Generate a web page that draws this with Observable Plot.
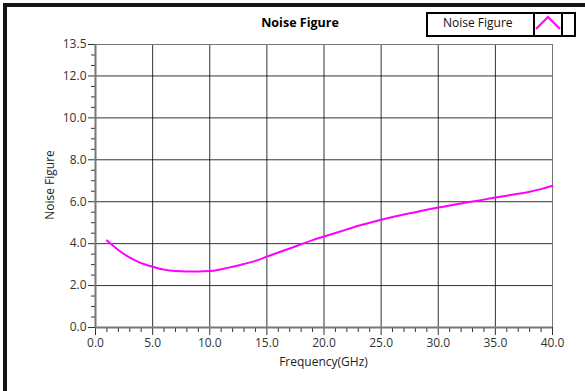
<!DOCTYPE html>
<html><head><meta charset="utf-8">
<script src="https://cdn.jsdelivr.net/npm/d3@7"></script>
<script src="https://cdn.jsdelivr.net/npm/@observablehq/plot@0.6"></script>
<style>
body{margin:0;background:#fff;}
#wrap{position:relative;width:585px;height:391px;overflow:hidden;background:#fff;}
#chart{position:absolute;left:0;top:0;}
#overlay{position:absolute;left:0;top:0;pointer-events:none;}
</style></head><body>
<div id="wrap">
  <div id="chart"></div>
  <svg id="overlay" width="585" height="391" font-family="'Open Sans', sans-serif">
    <rect x="3" y="3" width="4" height="388" fill="#151515"></rect>
    <rect x="3" y="3" width="582" height="4" fill="#151515"></rect>
    <text id="title" x="300" y="27" text-anchor="middle" font-size="12.5" font-weight="bold" fill="#000"></text>
    <text id="xlabel" x="323.5" y="366" text-anchor="middle" font-size="12" fill="#222"></text>
    <text id="ylabel" transform="translate(54,185) rotate(-90)" text-anchor="middle" font-size="12" fill="#222"></text>
    <rect x="427" y="13" width="148" height="23" fill="#fff" stroke="#000" stroke-width="2"></rect>
    <rect x="534" y="13" width="28" height="23" fill="#fff" stroke="#000" stroke-width="2"></rect>
    <polyline id="legendSwatch" points="536,29 548,17 560,29" fill="none" stroke-width="2"></polyline>
    <text id="legendText" x="443" y="27" font-size="12" fill="#111"></text>
  </svg>
</div>
<script>
const titleText = "Noise Figure";
const xLabel = "Frequency(GHz)";
const yLabel = "Noise Figure";
const seriesName = "Noise Figure";
const lineColor = "#ff00ff";

const freq = [1, 2, 3, 4, 5, 6, 7, 8, 9, 10, 11, 12, 13, 14, 15, 16, 17, 18, 19, 20,
  21, 22, 23, 24, 25, 26, 27, 28, 29, 30, 31, 32, 33, 34, 35, 36, 37, 38, 39, 40];
const noiseFigure = [4.15, 3.7, 3.33, 3.07, 2.9, 2.76, 2.69, 2.67, 2.67, 2.69, 2.78, 2.9, 3.03, 3.18, 3.38, 3.58, 3.77, 3.97, 4.17, 4.34,
  4.51, 4.68, 4.85, 5.0, 5.14, 5.27, 5.39, 5.5, 5.62, 5.72, 5.82, 5.92, 6.01, 6.1, 6.2, 6.29, 6.38, 6.48, 6.6, 6.76];

const yMajor = [0, 2, 4, 6, 8, 10, 12, 13.5];
const yMinor = [0.5, 1, 1.5, 2.5, 3, 3.5, 4.5, 5, 5.5, 6.5, 7, 7.5, 8.5, 9, 9.5, 10.5, 11, 11.5, 12.5, 13];
const xMajor = [0, 5, 10, 15, 20, 25, 30, 35, 40];
const xMinor = [1, 2, 3, 4, 6, 7, 8, 9, 11, 12, 13, 14, 16, 17, 18, 19, 21, 22, 23, 24,
  26, 27, 28, 29, 31, 32, 33, 34, 36, 37, 38, 39];

const data = freq.map((f, i) => ({f, nf: noiseFigure[i]}));
const fmt = d3.format(".1f");

const chart = Plot.plot({
  width: 585,
  height: 391,
  marginLeft: 95,
  marginRight: 33,
  marginTop: 44,
  marginBottom: 64,
  style: {fontFamily: "'Open Sans', sans-serif", fontSize: "12px", color: "#333", background: "transparent"},
  x: {domain: [0, 40]},
  y: {domain: [0, 13.5]},
  marks: [
    Plot.gridX({ticks: xMajor.filter(v => v > 0 && v < 40), stroke: "#000", strokeOpacity: 0.8}),
    Plot.gridX({ticks: [40], stroke: "#777", strokeOpacity: 1}),
    Plot.gridY({ticks: yMajor.filter(v => v > 0 && v < 13.5), stroke: "#000", strokeOpacity: 0.8}),
    Plot.gridY({ticks: [13.5], stroke: "#777", strokeOpacity: 1}),
    Plot.axisY({ticks: yMajor, tickSize: 7, tickPadding: 2, tickFormat: fmt, label: null}),
    Plot.axisY({ticks: yMinor, tickSize: 4, tickFormat: () => "", label: null}),
    Plot.axisX({ticks: xMajor, tickSize: 8, tickPadding: 3, tickFormat: fmt, label: null}),
    Plot.axisX({ticks: xMinor, tickSize: 5, tickFormat: () => "", label: null}),
    Plot.ruleX([0], {stroke: "#777", strokeWidth: 2}),
    Plot.ruleY([0], {stroke: "#777", strokeWidth: 2}),
    Plot.line(data, {x: "f", y: "nf", stroke: lineColor, strokeWidth: 2, curve: "monotone-x"})
  ]
});
document.getElementById("chart").appendChild(chart);
document.getElementById("title").textContent = titleText;
document.getElementById("xlabel").textContent = xLabel;
document.getElementById("ylabel").textContent = yLabel;
document.getElementById("legendText").textContent = seriesName;
document.getElementById("legendSwatch").setAttribute("stroke", lineColor);
</script>
</body></html>
